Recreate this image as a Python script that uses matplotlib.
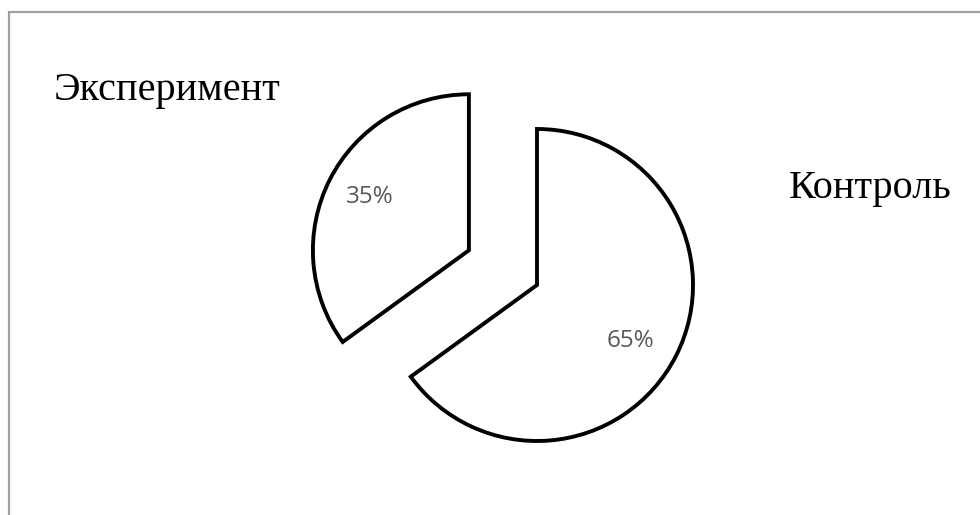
import matplotlib.pyplot as plt
from matplotlib.patches import Rectangle

# data
labels = ["Контроль", "Эксперимент"]
shares = [65, 35]
explode_frac = [0, 0.49]   # share of the radius

R = 156
fig = plt.figure(figsize=(9.8, 5.15), dpi=100)
ax = fig.add_axes([0, 0, 1, 1])

# frame (only top and left show in the picture)
ax.add_patch(Rectangle((9, -20), 1100, 523, fill=False, ec="#a0a0a0", lw=1.6))

wedges, texts, autotexts = ax.pie(
    shares, explode=[e * R for e in explode_frac], startangle=90,
    counterclock=False, center=(537, 230), radius=R, frame=True,
    colors=["white", "white"],
    wedgeprops=dict(edgecolor="black", linewidth=2.8, joinstyle="miter"),
    autopct="%d%%",
    textprops=dict(color="#595959", fontsize=17.5, family="Open Sans"),
)
ax.set_xlim(0, 980)
ax.set_ylim(0, 515)
ax.set_aspect("equal")
ax.axis("off")

# percent labels where they sit in the reference
autotexts[0].set_position((630, 515 - 341))
autotexts[1].set_position((370, 515 - 197))

ax.text(54, 515 - 100, labels[1], fontsize=29, family="Liberation Serif",
        va="baseline", ha="left")
ax.text(789, 515 - 198, labels[0], fontsize=29, family="Liberation Serif",
        va="baseline", ha="left")

fig.savefig("out.png", dpi=100)
